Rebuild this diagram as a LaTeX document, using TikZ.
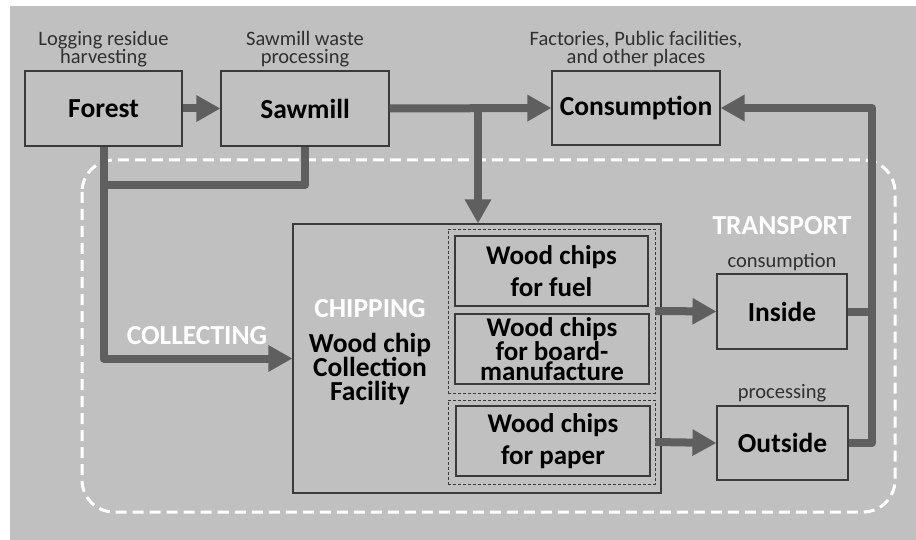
\documentclass[tikz,border=0pt]{standalone}
\usepackage{fontspec}
\setmainfont{Carlito}
\usetikzlibrary{arrows.meta,positioning}
\definecolor{bgc}{HTML}{C0C0C0}
\definecolor{lnc}{HTML}{5F5F5F}
\definecolor{bdc}{HTML}{3A3A3A}
\definecolor{txc}{HTML}{303030}
\begin{document}
\begin{tikzpicture}[x=1pt,y=-1pt,
  box/.style={draw=bdc,line width=1.1pt,fill=bgc,inner sep=0pt,align=center,text=black},
  big/.style={font=\fontsize{27.5}{29}\selectfont\bfseries},
  lab/.style={font=\fontsize{20.5}{18.5}\selectfont,text=txc,align=center,inner sep=0pt},
  wlab/.style={font=\fontsize{27.5}{29}\selectfont\bfseries,text=white,inner sep=0pt},
  grp/.style={draw=bdc,dash pattern=on 3pt off 2pt,line width=0.9pt,inner sep=0pt},
  conn/.style={draw=lnc,line width=8pt,line join=round},
  arr/.style={conn,-{Triangle[length=24pt,width=25pt]}}]
\useasboundingbox (0,0) rectangle (916,540);
\fill[white] (0,0) rectangle (916,540);
\fill[bgc] (10,6) rectangle (916,540);
% white dashed region
\draw[white,line width=3pt,dash pattern=on 11pt off 6pt,rounded corners=32pt] (82,160) rectangle (895,512);
% top boxes
\node[box,big,minimum width=157pt,minimum height=75pt] (forest) at (103.5,108.5) {Forest};
\node[box,big,minimum width=168pt,minimum height=75pt] (sawmill) at (305,108.5) {Sawmill};
\node[box,big,minimum width=168pt,minimum height=74pt] (cons) at (636,108) {Consumption};
\node[lab] (l1) at (103.5,49) {Logging residue\\harvesting};
\node[lab] (l2) at (305,49) {Sawmill waste\\processing};
\node[lab] (l3) at (636,49) {Factories, Public facilities,\\and other places};
% chipping facility
\node[box,minimum width=368pt,minimum height=269pt] (chip) at (477,358.5) {};
\node[wlab] (chiplab) at (370,309) {CHIPPING};
\node[align=center,inner sep=0pt,font=\fontsize{27.5}{24}\selectfont\bfseries] (wcf) at (370,369) {Wood chip\\Collection\\Facility};
\node[grp,minimum width=207pt,minimum height=164pt] (g1) at (551.5,311) {};
\node[grp,minimum width=207pt,minimum height=84pt] (g2) at (551.5,442) {};
\node[box,minimum width=193pt,minimum height=70pt,font=\fontsize{27}{32}\selectfont\bfseries] (fuel) at (551.5,271) {Wood chips\\for fuel};
\node[box,minimum width=194pt,minimum height=70pt,font=\fontsize{27}{20.5}\selectfont\bfseries] (board) at (552,349) {Wood chips\\for board-\\manufacture};
\node[box,minimum width=194pt,minimum height=70pt,font=\fontsize{27}{32}\selectfont\bfseries] (paper) at (553,441) {Wood chips\\for paper};
% transport
\node[wlab] (tr) at (782,226) {TRANSPORT};
\node[box,big,minimum width=130pt,minimum height=75pt] (inside) at (782,311.5) {Inside};
\node[box,big,minimum width=131pt,minimum height=74pt] (outside) at (782.5,443) {Outside};
\node[lab] (l4) at (782,262) {consumption};
\node[lab] (l5) at (782,393) {processing};
\node[wlab] (coll) at (197,336) {COLLECTING};
% connectors
\coordinate (br) at (478,108);
\coordinate (rt) at (872,108);
\coordinate (yj) at (0,185);
\draw[arr] (forest) -- (sawmill);
\draw[arr] (sawmill.east) -- (cons.west);
\draw[arr] (br) -- (br |- chip.north);
\draw[conn] (sawmill.south) |- (forest.south |- yj);
\draw[arr] (forest.south) |- (chip.west);
\draw[arr] (g1.east) -- (inside.west);
\draw[arr] (g2.east) -- (outside.west);
\draw[arr] (outside.east) -| (rt) -- (cons.east);
\draw[conn] (inside.east) -- (inside.east -| rt);
\end{tikzpicture}
\end{document}
